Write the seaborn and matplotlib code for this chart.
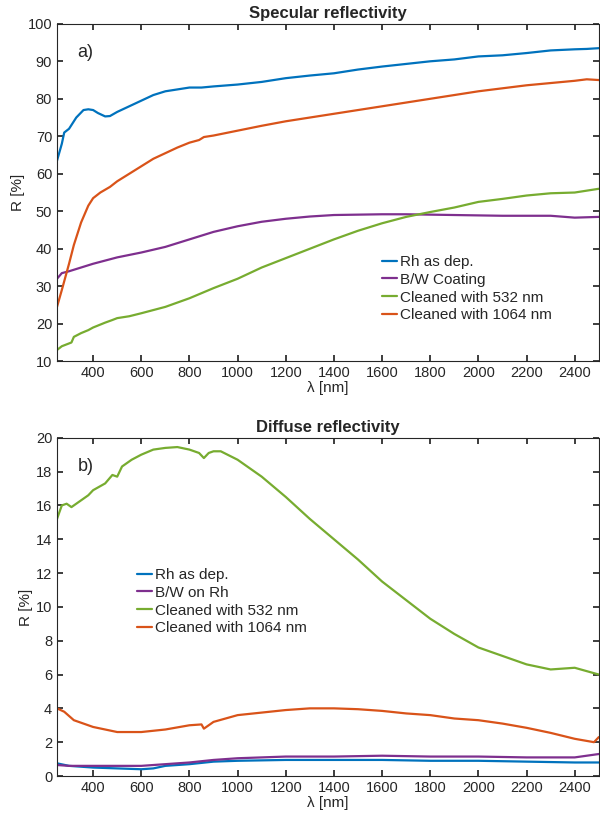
import matplotlib

matplotlib.use("Agg")

import matplotlib.pyplot as plt
import pandas as pd
import seaborn as sns

# ---- specular reflectivity (panel a) ----
SPEC_RH_X = [250, 270, 280, 300, 330, 360, 380, 400, 420, 450, 470, 500, 550, 600, 650, 700, 750, 800,
             850, 900, 1000, 1100, 1200, 1300, 1400, 1500, 1600, 1700, 1800, 1900, 2000, 2100, 2200,
             2300, 2400, 2450, 2500]
SPEC_RH_Y = [63.5, 68, 71, 72, 75, 77, 77.2, 77, 76.2, 75.3, 75.4, 76.5, 78, 79.5, 81, 82, 82.5, 83,
             83, 83.3, 83.8, 84.5, 85.5, 86.2, 86.8, 87.8, 88.6, 89.3, 90, 90.5, 91.3, 91.6, 92.2,
             92.9, 93.2, 93.3, 93.5]

SPEC_BW_X = [250, 270, 300, 350, 400, 500, 600, 700, 800, 900, 1000, 1100, 1200, 1300, 1400, 1500,
             1600, 1700, 1800, 1900, 2000, 2100, 2200, 2300, 2400, 2500]
SPEC_BW_Y = [32, 33.5, 34, 35, 36, 37.7, 39, 40.5, 42.5, 44.5, 46, 47.2, 48, 48.6, 49, 49.1,
             49.2, 49.2, 49.1, 49, 48.9, 48.8, 48.8, 48.8, 48.3, 48.5]

SPEC_532_X = [250, 270, 290, 310, 320, 350, 380, 400, 450, 480, 500, 550, 600, 700, 800, 900, 1000,
              1100, 1200, 1300, 1400, 1500, 1600, 1700, 1800, 1900, 2000, 2100, 2200, 2300, 2400,
              2450, 2500]
SPEC_532_Y = [13, 14, 14.5, 15, 16.5, 17.5, 18.3, 19, 20.3, 21, 21.5, 22, 22.8, 24.5, 26.8, 29.5, 32,
              35, 37.5, 40, 42.5, 44.8, 46.8, 48.5, 49.8, 51, 52.5, 53.3, 54.2, 54.8, 55,
              55.5, 56]

SPEC_1064_X = [250, 270, 300, 320, 350, 380, 400, 430, 470, 500, 550, 600, 650, 700, 750, 800, 840,
               860, 900, 1000, 1100, 1200, 1300, 1400, 1500, 1600, 1700, 1800, 1900, 2000, 2100,
               2200, 2300, 2400, 2450, 2500]
SPEC_1064_Y = [24.5, 29, 36, 41, 47, 51.5, 53.5, 55, 56.5, 58, 60, 62, 64, 65.5, 67, 68.3, 69,
               69.8, 70.2, 71.5, 72.8, 74, 75, 76, 77, 78, 79, 80, 81, 82, 82.8,
               83.6, 84.2, 84.8, 85.2, 85]

# ---- diffuse reflectivity (panel b) ----
DIFF_RH_X = [250, 300, 400, 500, 600, 650, 700, 800, 900, 1000, 1200, 1400, 1600, 1800, 2000, 2200,
             2400, 2500]
DIFF_RH_Y = [0.75, 0.6, 0.5, 0.45, 0.4, 0.45, 0.6, 0.7, 0.85, 0.9, 0.95, 0.95, 0.95, 0.9, 0.9, 0.85,
             0.8, 0.8]

DIFF_BW_X = [250, 300, 400, 600, 700, 800, 900, 1000, 1200, 1400, 1600, 1800, 2000, 2200, 2400, 2500]
DIFF_BW_Y = [0.65, 0.6, 0.6, 0.6, 0.7, 0.8, 0.95, 1.05, 1.15, 1.15, 1.2, 1.15, 1.15, 1.1, 1.1, 1.3]

DIFF_532_X = [250, 270, 290, 310, 320, 350, 380, 400, 450, 480, 500, 520, 560, 600, 650, 700, 750,
              800, 840, 860, 880, 900, 930, 1000, 1100, 1200, 1300, 1400, 1500, 1600, 1700, 1800,
              1900, 2000, 2100, 2200, 2300, 2400, 2450, 2500]
DIFF_532_Y = [15.2, 16, 16.1, 15.9, 16, 16.3, 16.6, 16.9, 17.3, 17.8, 17.7, 18.3, 18.7, 19, 19.3,
              19.4, 19.45, 19.3, 19.1, 18.8, 19.1, 19.2, 19.2, 18.7, 17.7, 16.5, 15.2, 14, 12.8,
              11.5, 10.4, 9.3, 8.4, 7.6, 7.1, 6.6, 6.3, 6.4, 6.2, 6.0]

DIFF_1064_X = [250, 280, 320, 400, 500, 600, 700, 800, 850, 860, 900, 1000, 1100, 1200, 1300, 1400,
               1500, 1600, 1700, 1800, 1900, 2000, 2100, 2200, 2300, 2400, 2480, 2500]
DIFF_1064_Y = [4.0, 3.8, 3.3, 2.9, 2.6, 2.6, 2.75, 3.0, 3.05, 2.8, 3.2, 3.6, 3.75, 3.9, 4.0, 4.0,
               3.95, 3.85, 3.7, 3.6, 3.4, 3.3, 3.1, 2.85, 2.55, 2.2, 2.0, 2.3]

LABELS_A = ["Rh as dep.", "B/W Coating", "Cleaned with 532 nm", "Cleaned with 1064 nm"]
LABELS_B = ["Rh as dep.", "B/W on Rh", "Cleaned with 532 nm", "Cleaned with 1064 nm"]
COLORS = ["#0072BD", "#7E2F8E", "#77AC30", "#D95319"]


def to_frame(series, labels):
    parts = []
    for (x, y), lab in zip(series, labels):
        parts.append(pd.DataFrame({"wl": x, "R": y, "sample": lab}))
    return pd.concat(parts, ignore_index=True)


def draw_panel(ax, df, labels, title, tag, ylim, yticks, legend_anchor):
    sns.lineplot(data=df, x="wl", y="R", hue="sample", hue_order=labels,
                 palette=COLORS, linewidth=1.6, sort=False, estimator=None, ax=ax)
    ax.set_xlim(250, 2500)
    ax.set_ylim(*ylim)
    ax.set_xticks(range(400, 2500, 200))
    ax.set_yticks(yticks)
    ax.set_title(title, fontsize=12, fontweight="bold", pad=4)
    ax.set_xlabel("λ [nm]", fontsize=11, labelpad=1)
    ax.set_ylabel("R [%]", fontsize=11, labelpad=2)
    ax.text(0.038, 0.915, tag, transform=ax.transAxes, fontsize=13, va="center", ha="left")
    ax.tick_params(direction="in", top=True, right=True, length=4, labelsize=10.5,
                   colors="#262626")
    for s in ax.spines.values():
        s.set_color("#262626")
        s.set_linewidth(0.8)
    sns.move_legend(ax, "upper left", bbox_to_anchor=legend_anchor, frameon=False, title=None,
                    fontsize=11, handlelength=1.0, handletextpad=0.15, labelspacing=0.25,
                    borderaxespad=0, borderpad=0)


def main():
    sns.set_theme(style="ticks")
    plt.rcParams["font.family"] = ["Liberation Sans", "DejaVu Sans"]

    fig = plt.figure(figsize=(6.0, 8.21), dpi=100)
    ax_a = fig.add_axes([0.095, 0.560, 0.903, 0.411])
    ax_b = fig.add_axes([0.095, 0.0548, 0.903, 0.412])

    spec = to_frame([(SPEC_RH_X, SPEC_RH_Y), (SPEC_BW_X, SPEC_BW_Y),
                     (SPEC_532_X, SPEC_532_Y), (SPEC_1064_X, SPEC_1064_Y)], LABELS_A)
    diff = to_frame([(DIFF_RH_X, DIFF_RH_Y), (DIFF_BW_X, DIFF_BW_Y),
                     (DIFF_532_X, DIFF_532_Y), (DIFF_1064_X, DIFF_1064_Y)], LABELS_B)

    draw_panel(ax_a, spec, LABELS_A, "Specular reflectivity", "a)", (10, 100),
               range(10, 101, 10), (0.6, 0.315))
    draw_panel(ax_b, diff, LABELS_B, "Diffuse reflectivity", "b)", (0, 20),
               range(0, 21, 2), (0.148, 0.615))

    fig.savefig("out.png", dpi=100)
    plt.close(fig)


if __name__ == "__main__":
    main()
